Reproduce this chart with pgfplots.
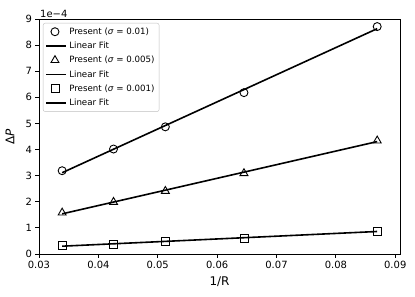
\documentclass[border=0pt]{standalone}
\usepackage{pgfplots}
\pgfplotsset{compat=1.18}
\usepackage{fontspec}
\setmainfont{DejaVu Sans}
\begin{document}
\begin{tikzpicture}
\begin{axis}[
  name=ax,
  scale only axis, width=361bp, height=235bp,
  xmin=0.03, xmax=0.0908, ymin=0, ymax=9e-4,
  xtick={0.03,0.04,0.05,0.06,0.07,0.08,0.09},
  ytick={0,1e-4,2e-4,3e-4,4e-4,5e-4,6e-4,7e-4,8e-4,9e-4},
  scaled x ticks=false,
  scaled y ticks=base 10:4,
  ytick scale label code/.code={1e\textminus4},
  every y tick scale label/.style={at={(rel axis cs:0,1)}, anchor=south west, inner sep=1bp, font=\fontsize{10}{12}\selectfont},
  /pgf/number format/assume math mode=true,
  xticklabel style={/pgf/number format/fixed, /pgf/number format/fixed zerofill, /pgf/number format/precision=2},
  yticklabel style={/pgf/number format/fixed, /pgf/number format/precision=1},
  tick label style={font=\fontsize{10}{12}\selectfont},
  tick align=outside, major tick length=3.5bp,
  xtick pos=left, ytick pos=left,
  axis line style={line width=0.8bp},
  every tick/.style={black, line width=0.8bp},
  xlabel={1/R}, ylabel={Δ\textit{P}},
  every axis x label/.style={at={(axis description cs:0.5,-0.119)}, anchor=center, font=\fontsize{12}{14}\selectfont},
  every axis y label/.style={at={(axis description cs:-0.0803,0.5)}, rotate=90, anchor=center, font=\fontsize{12}{14}\selectfont},
  legend style={at={(axis description cs:0.011,0.983)}, anchor=north west, draw=black!25, rounded corners=2bp, font=\fontsize{8.7}{10}\selectfont, row sep=2.2bp, inner sep=2.5bp},
  legend cell align=left,
]
\addplot[only marks, mark=o, mark size=4bp, mark options={line width=0.9bp, fill=none}] table {
x y
0.03390 3.19e-4
0.04255 4.02e-4
0.05128 4.87e-4
0.06452 6.18e-4
0.08696 8.71e-4
};
\addlegendentry{Present (\textit{σ} = 0.01)}
\addplot[black, line width=1.6bp, no marks, legend image code/.code={\draw[black, line width=1.6bp] (0bp,0bp) -- (20bp,0bp);}] table {
x y
0.03390 3.113e-4
0.08696 8.630e-4
};
\addlegendentry{Linear Fit}
\addplot[only marks, mark=triangle, mark size=4.6bp, mark options={line width=0.9bp, fill=none}] table {
x y
0.03390 1.58e-4
0.04255 1.99e-4
0.05128 2.41e-4
0.06452 3.09e-4
0.08696 4.34e-4
};
\addlegendentry{Present (\textit{σ} = 0.005)}
\addplot[black, line width=1.6bp, no marks, legend image code/.code={\draw[black, line width=1.6bp] (0bp,0bp) -- (20bp,0bp);}] table {
x y
0.03390 1.538e-4
0.08696 4.305e-4
};
\addlegendentry{Linear Fit}
\addplot[only marks, mark=square, mark size=4bp, mark options={line width=0.9bp, fill=none}] table {
x y
0.03390 0.31e-4
0.04255 0.38e-4
0.05128 0.49e-4
0.06452 0.61e-4
0.08696 0.87e-4
};
\addlegendentry{Present (\textit{σ} = 0.001)}
\addplot[black, line width=1.6bp, no marks, legend image code/.code={\draw[black, line width=1.6bp] (0bp,0bp) -- (20bp,0bp);}] table {
x y
0.03390 0.299e-4
0.08696 0.862e-4
};
\addlegendentry{Linear Fit}
\end{axis}
\path (ax.south west) ++(-39bp,-43bp);
\path (ax.north east) ++(15bp,19bp);
\end{tikzpicture}
\end{document}
